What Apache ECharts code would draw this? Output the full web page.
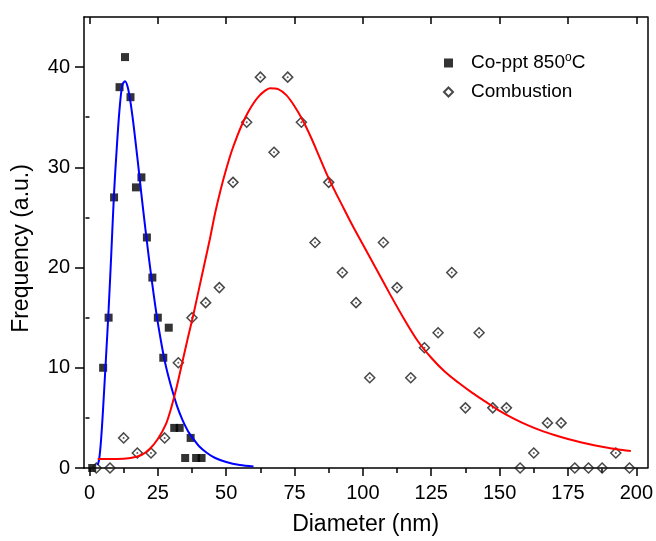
<!DOCTYPE html>
<html>
<head>
<meta charset="utf-8">
<script src="https://cdn.jsdelivr.net/npm/echarts@6/dist/echarts.min.js"></script>
<style>
  html, body { margin: 0; padding: 0; background: #fff; }
  #chart { width: 656px; height: 541px; }
</style>
</head>
<body>
<div id="chart"></div>
<script>
// Particle size histograms (nm) with their log-normal fit curves
const coName = 'Co-ppt 850°C';
const combName = 'Combustion';

const coX = [1, 5, 7, 9, 11, 13, 15, 17, 19, 21, 23, 25, 27, 29, 31, 33, 35, 37, 39, 41];
const coY = [0, 10, 15, 27, 38, 41, 37, 28, 29, 23, 19, 15, 11, 14, 4, 4, 1, 3, 1, 1];

const combX = [2.5, 7.5, 12.5, 17.5, 22.5, 27.5, 32.5, 37.5, 42.5, 47.5,
               52.5, 57.5, 62.5, 67.5, 72.5, 77.5, 82.5, 87.5, 92.5, 97.5,
               102.5, 107.5, 112.5, 117.5, 122.5, 127.5, 132.5, 137.5, 142.5, 147.5,
               152.5, 157.5, 162.5, 167.5, 172.5, 177.5, 182.5, 187.5, 192.5, 197.5];
const combY = [0, 0, 3, 1.5, 1.5, 3, 10.5, 15, 16.5, 18,
               28.5, 34.5, 39, 31.5, 39, 34.5, 22.5, 28.5, 19.5, 16.5,
               9, 22.5, 18, 9, 12, 13.5, 19.5, 6, 13.5, 6,
               6, 0, 1.5, 4.5, 4.5, 0, 0, 0, 1.5, 0];

// Fit curve for the co-precipitated sample (blue)
const coFitX = [3, 3.5, 4, 4.5, 5, 6, 7, 8, 9, 10,
                11, 12, 13, 14, 15, 16, 17, 18, 19, 20,
                21, 22, 23, 24, 25, 26, 27, 28, 29, 30,
                32, 34, 36, 38, 40, 43, 46, 50, 55, 60];
const coFitY = [0.3, 0.8, 2, 3.8, 6, 10.8, 15.8, 21.5, 27.5, 32,
                35.8, 38.2, 38.6, 38.0, 36.5, 34.5, 32.2, 29.8, 27.3, 24.9,
                22.6, 20.4, 18.3, 16.3, 14.5, 12.9, 11.4, 10.1, 9.0, 8.0,
                6.2, 4.8, 3.7, 2.9, 2.2, 1.5, 1.0, 0.6, 0.3, 0.15];

// Fit curve for the combustion sample (red)
const combFitX = [3, 10, 15, 19, 22, 25, 28, 30, 32, 34,
                  36, 38, 40, 42, 44, 46, 48, 50, 52, 54,
                  56, 58, 60, 62, 64, 66, 69, 72, 75, 78,
                  81, 84, 87, 90, 93, 96, 100, 105, 110, 115,
                  120, 125, 130, 135, 140, 145, 150, 155, 160, 165,
                  170, 175, 180, 185, 190, 195, 198];
const combFitY = [0.9, 0.9, 1.0, 1.3, 1.9, 2.9, 4.4, 6.1, 8.2, 10.6,
                  13.0, 15.3, 17.8, 20.3, 22.8, 25.5, 27.8, 29.8, 31.6, 33.1,
                  34.4, 35.5, 36.4, 37.1, 37.6, 37.9, 37.8, 37.2, 36.1, 34.7,
                  33.0, 31.1, 29.2, 27.5, 25.9, 24.3, 22.3, 19.8, 17.3, 14.9,
                  12.7, 11.0, 9.6, 8.5, 7.5, 6.6, 5.7, 4.95, 4.3, 3.75,
                  3.3, 2.9, 2.55, 2.25, 2.0, 1.8, 1.7];

// Axis ticks
const xMajorTicks = [0, 25, 50, 75, 100, 125, 150, 175, 200];
const xMinorTicks = [12.5, 37.5, 62.5, 87.5, 112.5, 137.5, 162.5, 187.5];
const yMajorTicks = [0, 10, 20, 30, 40];
const yMinorTicks = [5, 15, 25, 35];

const pairs = (xs, ys) => xs.map((x, i) => [x, ys[i]]);
const FONT = "'Liberation Sans', Arial, Helvetica, sans-serif";
const AXIS_W = 1.5;
const X_MIN = -2, X_MAX = 204, Y_MIN = 0, Y_MAX = 45;

function xAxisDef(position, ticks, tickLen, inside, opts) {
  return Object.assign({
    type: 'value', min: X_MIN, max: X_MAX, position: position,
    axisLine: { show: true, onZero: false, lineStyle: { color: '#000', width: AXIS_W } },
    axisTick: { show: true, customValues: ticks, length: tickLen, inside: inside,
                lineStyle: { color: '#000', width: AXIS_W } },
    axisLabel: { show: false },
    splitLine: { show: false }
  }, opts || {});
}
function yAxisDef(position, ticks, tickLen, opts) {
  return Object.assign({
    type: 'value', min: Y_MIN, max: Y_MAX, position: position,
    axisLine: { show: true, onZero: false, lineStyle: { color: '#000', width: AXIS_W } },
    axisTick: { show: ticks.length > 0, customValues: ticks, length: tickLen,
                lineStyle: { color: '#000', width: AXIS_W } },
    axisLabel: { show: false },
    splitLine: { show: false }
  }, opts || {});
}

const chart = echarts.init(document.getElementById('chart'), null, { renderer: 'canvas' });

chart.setOption({
  animation: false,
  backgroundColor: '#fff',
  grid: { left: 84, right: 8, top: 17, bottom: 67, containLabel: false },
  legend: {
    orient: 'vertical',
    left: 438, top: 47,
    itemWidth: 9, itemHeight: 9, itemGap: 10,
    data: [{ name: coName, icon: 'rect' }, { name: combName, icon: 'diamond' }],
    formatter: function (name) {
      return name === coName ? '{t|Co-ppt 850}{s|o}{t|C}' : '{t|' + name + '}';
    },
    textStyle: {
      color: '#000', fontFamily: FONT, fontSize: 19,
      padding: [0, 0, 0, 13],
      rich: {
        t: { fontFamily: FONT, fontSize: 19, lineHeight: 22, color: '#000' },
        s: { fontFamily: FONT, fontSize: 12, lineHeight: 12, color: '#000', verticalAlign: 'top' }
      }
    }
  },
  xAxis: [
    xAxisDef('bottom', xMajorTicks, 8, false, {
      axisLabel: { show: true, customValues: xMajorTicks, margin: 15,
                   fontFamily: FONT, fontSize: 20, color: '#000' },
      name: 'Diameter (nm)', nameLocation: 'middle', nameGap: 45,
      nameTextStyle: { fontFamily: FONT, fontSize: 23, color: '#000' }
    }),
    xAxisDef('bottom', xMinorTicks, 5, false, { axisLine: { show: false } }),
    xAxisDef('top', xMajorTicks, 7, true),
    xAxisDef('top', xMinorTicks, 4, true, { axisLine: { show: false } })
  ],
  yAxis: [
    yAxisDef('left', yMajorTicks, 9, {
      axisLabel: { show: true, customValues: yMajorTicks, margin: 14,
                   fontFamily: FONT, fontSize: 20, color: '#000' },
      name: 'Frequency (a.u.)', nameLocation: 'middle', nameGap: 51, nameRotate: 90,
      nameTextStyle: { fontFamily: FONT, fontSize: 23, color: '#000', padding: [0, 12, 0, 0] }
    }),
    yAxisDef('left', yMinorTicks, 4, { axisLine: { show: false } }),
    yAxisDef('right', [], 0)
  ],
  series: [
    {
      name: coName, type: 'scatter', xAxisIndex: 0, yAxisIndex: 0,
      data: pairs(coX, coY),
      symbol: 'rect', symbolSize: 8,
      itemStyle: { color: '#000' },
      z: 2
    },
    {
      name: combName, type: 'scatter', xAxisIndex: 0, yAxisIndex: 0,
      data: pairs(combX, combY),
      symbol: 'diamond', symbolSize: 10,
      itemStyle: { color: 'rgba(255,255,255,0)', borderColor: '#1a1a1a', borderWidth: 1.5 },
      z: 2
    },
    {
      // centre dots of the hollow diamonds
      type: 'scatter', xAxisIndex: 0, yAxisIndex: 0,
      data: pairs(combX, combY),
      symbol: 'circle', symbolSize: 2,
      itemStyle: { color: '#333' },
      silent: true, z: 2
    },
    {
      type: 'line', xAxisIndex: 0, yAxisIndex: 0,
      data: pairs(coFitX, coFitY),
      showSymbol: false, smooth: 0.3,
      lineStyle: { color: '#0000ff', width: 2 },
      z: 3
    },
    {
      type: 'line', xAxisIndex: 0, yAxisIndex: 0,
      data: pairs(combFitX, combFitY),
      showSymbol: false, smooth: 0.3,
      lineStyle: { color: '#ff0000', width: 2 },
      z: 3
    }
  ]
});
</script>
</body>
</html>
